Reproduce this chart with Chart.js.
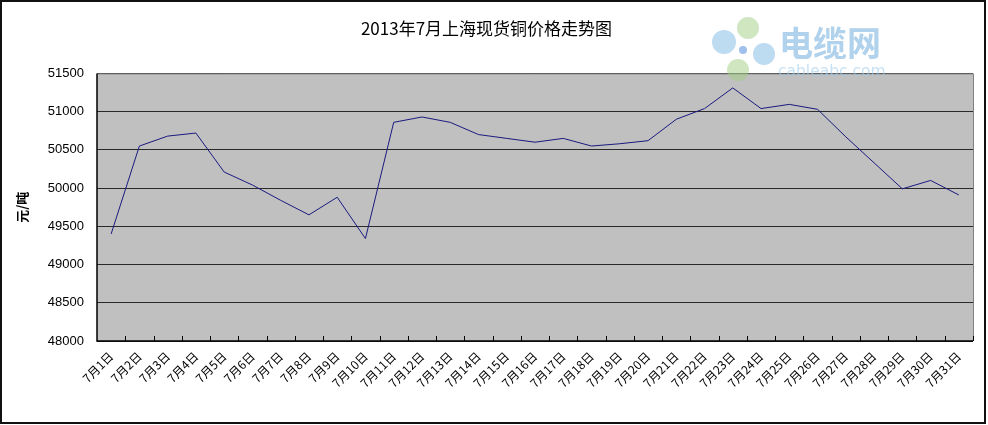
<!DOCTYPE html>
<html>
<head>
<meta charset="utf-8">
<script src="https://cdn.jsdelivr.net/npm/chart.js@4"></script>
<style>
html,body{margin:0;padding:0;background:#fff;}
#wrap{width:988px;height:425px;position:relative;}
</style>
</head>
<body>
<div id="wrap"><canvas id="c" width="988" height="425"></canvas></div>
<script>
const categories = ["7月1日","7月2日","7月3日","7月4日","7月5日","7月6日","7月7日","7月8日","7月9日","7月10日","7月11日","7月12日","7月13日","7月14日","7月15日","7月16日","7月17日","7月18日","7月19日","7月20日","7月21日","7月22日","7月23日","7月24日","7月25日","7月26日","7月27日","7月28日","7月29日","7月30日","7月31日"];
const prices = [49400,50550,50680,50720,50210,50040,49840,49650,49880,49340,50860,50930,50860,50700,50650,50600,50650,50550,50580,50620,50900,51040,51310,51040,51095,51030,50670,50330,49990,50100,49910];
const yTicks = [48000,48500,49000,49500,50000,50500,51000,51500];
const titleText = "2013年7月上海现货铜价格走势图";
const yTitle = "元/吨";
const watermarkCN = "电缆网";
const watermarkEN = "cableabc.com";

const CJK = '"Noto Sans CJK SC", "DejaVu Sans", sans-serif';

const decor = {
  id: 'decor',
  beforeDraw(chart) {
    const {ctx, chartArea: a} = chart;
    ctx.save();
    ctx.fillStyle = '#ffffff';
    ctx.fillRect(0, 0, chart.width, chart.height);
    ctx.fillStyle = '#c0c0c0';
    ctx.fillRect(a.left, a.top, a.right - a.left, a.bottom - a.top);
    ctx.restore();
  },
  afterDraw(chart) {
    const {ctx, chartArea: a} = chart;
    const xs = chart.scales.x;
    ctx.save();
    ctx.strokeStyle = '#808080';
    ctx.lineWidth = 1;
    ctx.beginPath();
    ctx.moveTo(a.left, a.top + 0.5); ctx.lineTo(a.right + 0.5, a.top + 0.5); ctx.lineTo(a.right + 0.5, a.bottom);
    ctx.stroke();
    ctx.strokeStyle = '#000';
    ctx.lineWidth = 1.5;
    ctx.beginPath();
    ctx.moveTo(a.left, a.top); ctx.lineTo(a.left, a.bottom); ctx.lineTo(a.right, a.bottom);
    ctx.stroke();
    ctx.lineWidth = 1;
    ctx.beginPath();
    const n = categories.length;
    const step = xs.getPixelForValue(1) - xs.getPixelForValue(0);
    for (let i = 1; i <= n; i++) {
      const x = Math.round(xs.getPixelForValue(i - 1) + step / 2) + 0.5;
      ctx.moveTo(x, a.bottom); ctx.lineTo(x, a.bottom - 5);
    }
    ctx.stroke();
    // watermark logo
    const petals = [
      [724, 42, 12, 'rgba(135,190,230,0.55)'],
      [748, 28, 11, 'rgba(160,205,130,0.5)'],
      [764, 54, 11, 'rgba(135,190,230,0.55)'],
      [738, 70, 11, 'rgba(160,205,130,0.5)']
    ];
    for (const p of petals) {
      ctx.fillStyle = p[3];
      ctx.beginPath(); ctx.arc(p[0], p[1], p[2], 0, Math.PI * 2); ctx.fill();
    }
    ctx.fillStyle = 'rgba(130,170,230,0.75)';
    ctx.beginPath(); ctx.arc(743, 50, 4, 0, Math.PI * 2); ctx.fill();
    ctx.fillStyle = 'rgba(150,195,230,0.75)';
    ctx.font = 'bold 34px ' + CJK;
    ctx.textBaseline = 'middle';
    ctx.textAlign = 'left';
    ctx.fillText(watermarkCN, 779, 43);
    ctx.fillStyle = 'rgba(160,205,235,0.6)';
    ctx.font = '15.5px "DejaVu Sans", sans-serif';
    ctx.fillText(watermarkEN, 778, 72);
    ctx.strokeStyle = '#111';
    ctx.lineWidth = 2;
    ctx.strokeRect(1, 1, 984, 422);
    ctx.restore();
  }
};

new Chart(document.getElementById('c'), {
  type: 'line',
  data: {
    labels: categories,
    datasets: [{
      data: prices,
      borderColor: '#1a1a80',
      borderWidth: 1,
      pointRadius: 0,
      tension: 0,
      fill: false
    }]
  },
  options: {
    responsive: false,
    animation: false,
    devicePixelRatio: 1,
    layout: { padding: { left: 0, right: 15, top: 0, bottom: 0 } },
    plugins: {
      legend: { display: false },
      tooltip: { enabled: false },
      title: {
        display: true,
        text: titleText,
        color: '#000',
        font: { family: CJK, size: 17, weight: 'normal' },
        padding: { top: 18, bottom: 35 }
      }
    },
    scales: {
      x: {
        offset: true,
        grid: { display: false, drawOnChartArea: false, drawTicks: false },
        border: { display: false },
        ticks: {
          autoSkip: false,
          minRotation: 45,
          maxRotation: 45,
          color: '#000',
          padding: 8,
          font: { family: CJK, size: 12 }
        },
        afterFit(s) { s.height = 84; }
      },
      y: {
        min: 48000,
        max: 51500,
        afterBuildTicks(s) { s.ticks = yTicks.map(v => ({ value: v })); },
        grid: { color: '#2a2a2a', lineWidth: 1, drawTicks: false },
        border: { display: false },
        ticks: {
          color: '#000',
          padding: 13,
          font: { family: '"Liberation Sans", Arial, sans-serif', size: 13 },
          callback: (v) => String(v)
        },
        title: {
          display: true,
          text: yTitle,
          color: '#000',
          font: { family: CJK, size: 13, weight: 'bold' },
          padding: { top: 14, bottom: 0 }
        },
        afterFit(s) { s.width = 97; }
      }
    }
  },
  plugins: [decor]
});
</script>
</body>
</html>
